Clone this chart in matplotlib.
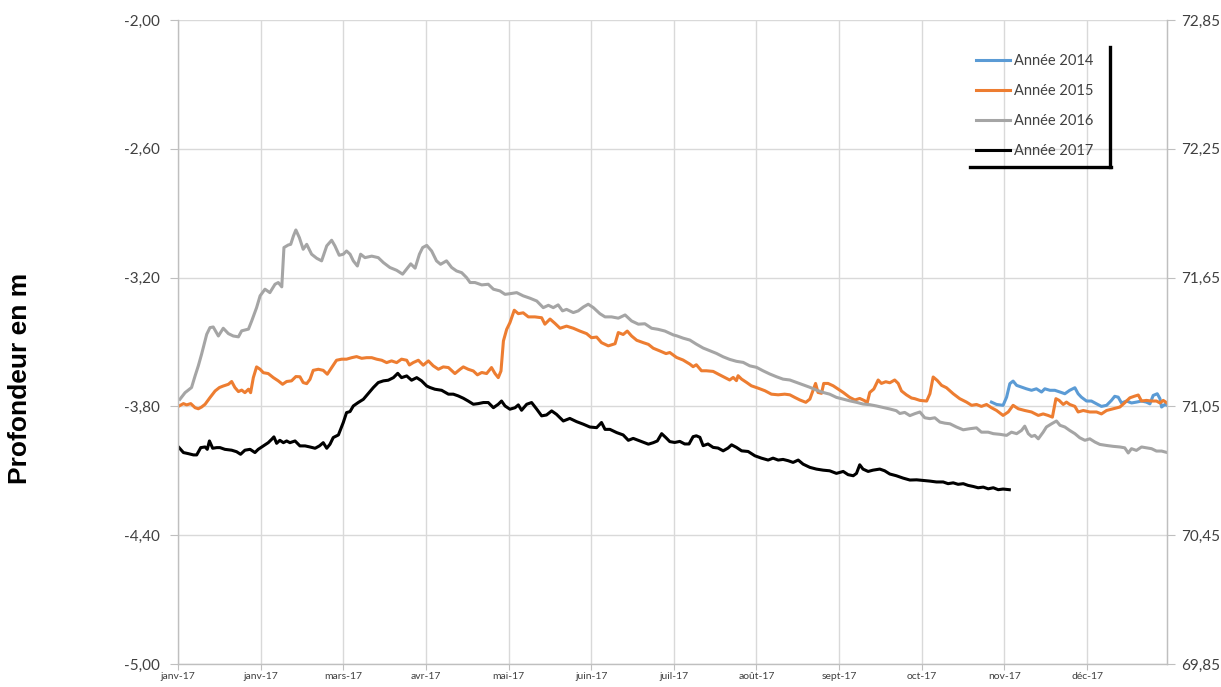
import matplotlib
matplotlib.use("Agg")
import matplotlib.pyplot as plt
from matplotlib.lines import Line2D

# Piezometric depth (m) by day of year, one series per year
days_2014 = [300.2, 302.1, 304.5, 305.8, 307.0, 308.2, 309.5, 311.3, 313.1, 315.0, 316.8, 318.7, 319.9,
             321.8, 323.6, 325.5, 327.3, 329.1, 331.0, 332.2, 333.4, 335.3, 337.1, 339.0, 340.8, 342.7,
             344.5, 345.7, 347.0, 348.2, 350.1, 351.9, 353.7, 355.6, 357.4, 358.7, 359.9, 361.4, 362.4,
             363.0, 364.2, 365.0]
depth_2014 = [-3.780, -3.791, -3.795, -3.757, -3.694, -3.682, -3.702, -3.710, -3.718, -3.725, -3.718, -3.733,
              -3.718, -3.725, -3.725, -3.733, -3.741, -3.725, -3.713, -3.741, -3.757, -3.775, -3.775, -3.788,
              -3.800, -3.795, -3.772, -3.753, -3.757, -3.784, -3.775, -3.784, -3.780, -3.775, -3.780, -3.788,
              -3.749, -3.741, -3.764, -3.803, -3.791, -3.795]

days_2015 = [0.4, 2.0, 3.2, 4.7, 6.3, 7.5, 8.7, 10.0, 11.8, 13.7, 15.3, 16.7, 18.6, 19.8, 21.0, 22.3, 23.5,
             24.7, 26.0, 26.8, 27.8, 29.0, 30.3, 31.5, 33.3, 35.2, 37.0, 38.6, 40.1, 41.9, 43.5, 45.0, 46.2,
             47.5, 48.7, 49.9, 51.8, 53.6, 55.1, 56.7, 58.5, 60.4, 62.2, 64.1, 65.9, 67.8, 69.6, 71.5, 73.3,
             75.2, 77.0, 78.8, 80.7, 82.5, 84.4, 85.4, 86.8, 88.7, 90.5, 92.4, 94.2, 96.1, 97.9, 99.8, 102.2,
             104.1, 105.3, 107.1, 109.0, 110.5, 112.1, 113.9, 115.7, 117.0, 118.2, 119.2, 120.1, 121.3, 122.5,
             124.1, 125.6, 127.4, 129.3, 131.7, 134.2, 135.4, 137.3, 139.1, 141.0, 143.4, 145.9, 148.3, 150.8,
             152.6, 154.5, 156.3, 158.8, 161.3, 162.5, 164.3, 165.8, 167.4, 169.3, 171.7, 173.6, 175.4, 177.9,
             180.1, 181.5, 184.0, 186.4, 188.9, 190.1, 191.3, 193.2, 195.0, 197.5, 199.3, 201.8, 203.6, 204.9,
             206.1, 206.7, 208.0, 209.8, 211.6, 214.1, 216.6, 219.0, 221.5, 223.9, 225.8, 227.6, 229.5, 231.7,
             233.2, 234.1, 235.3, 236.2, 237.5, 238.3, 239.9, 241.8, 243.6, 245.5, 247.9, 249.8, 251.6, 253.5,
             254.3, 255.3, 256.8, 258.4, 259.6, 261.2, 262.7, 264.5, 265.8, 267.0, 268.8, 270.7, 271.9, 273.8,
             276.3, 277.5, 278.7, 280.2, 281.8, 283.6, 286.1, 288.5, 291.0, 292.9, 294.7, 296.5, 298.4, 300.2,
             302.1, 304.5, 306.4, 308.2, 310.1, 312.5, 315.0, 317.5, 319.3, 321.1, 322.7, 324.0, 325.2, 326.7,
             327.9, 329.1, 331.0, 332.2, 334.1, 336.5, 339.0, 340.8, 342.7, 345.1, 347.6, 349.4, 351.3, 353.1,
             354.4, 355.6, 357.4, 359.3, 361.1, 362.4, 363.6, 365.0]
depth_2015 = [-3.798, -3.787, -3.793, -3.787, -3.806, -3.811, -3.803, -3.790, -3.759, -3.728, -3.712, -3.705,
              -3.697, -3.684, -3.712, -3.731, -3.724, -3.736, -3.720, -3.736, -3.666, -3.616, -3.627, -3.643,
              -3.647, -3.666, -3.681, -3.697, -3.684, -3.681, -3.661, -3.662, -3.689, -3.694, -3.674, -3.632,
              -3.627, -3.632, -3.650, -3.619, -3.585, -3.580, -3.580, -3.573, -3.568, -3.576, -3.573, -3.573,
              -3.580, -3.585, -3.596, -3.588, -3.596, -3.580, -3.585, -3.607, -3.596, -3.585, -3.608, -3.588,
              -3.611, -3.627, -3.616, -3.619, -3.647, -3.627, -3.616, -3.627, -3.635, -3.653, -3.642, -3.647,
              -3.619, -3.647, -3.666, -3.635, -3.495, -3.441, -3.410, -3.352, -3.368, -3.364, -3.383, -3.383,
              -3.387, -3.417, -3.393, -3.413, -3.436, -3.426, -3.436, -3.449, -3.461, -3.480, -3.477, -3.503,
              -3.518, -3.508, -3.456, -3.465, -3.449, -3.472, -3.492, -3.503, -3.511, -3.529, -3.542, -3.554,
              -3.549, -3.572, -3.584, -3.603, -3.615, -3.606, -3.634, -3.634, -3.637, -3.649, -3.665, -3.677,
              -3.665, -3.680, -3.657, -3.673, -3.688, -3.704, -3.715, -3.727, -3.743, -3.746, -3.743, -3.746,
              -3.758, -3.770, -3.781, -3.766, -3.735, -3.693, -3.735, -3.739, -3.693, -3.693, -3.704, -3.719,
              -3.735, -3.758, -3.770, -3.763, -3.774, -3.786, -3.735, -3.719, -3.677, -3.693, -3.685, -3.690,
              -3.677, -3.693, -3.728, -3.746, -3.761, -3.764, -3.772, -3.775, -3.741, -3.663, -3.679, -3.702,
              -3.713, -3.741, -3.764, -3.780, -3.795, -3.791, -3.800, -3.791, -3.806, -3.819, -3.842, -3.826,
              -3.795, -3.811, -3.819, -3.826, -3.842, -3.835, -3.842, -3.850, -3.764, -3.772, -3.791, -3.780,
              -3.791, -3.800, -3.826, -3.819, -3.826, -3.826, -3.835, -3.819, -3.811, -3.803, -3.783, -3.760,
              -3.752, -3.747, -3.775, -3.772, -3.775, -3.775, -3.784, -3.772, -3.784]

days_2016 = [0.7, 2.6, 5.0, 6.3, 7.5, 8.7, 10.6, 11.8, 13.0, 14.9, 16.7, 18.6, 20.4, 22.3, 23.5, 26.0, 27.2,
             29.0, 30.3, 32.1, 33.9, 35.8, 37.0, 38.3, 39.1, 40.7, 41.6, 42.6, 43.5, 44.8, 46.2, 47.5, 49.3,
             51.2, 53.0, 54.9, 56.7, 57.9, 59.5, 61.0, 62.2, 63.5, 64.7, 66.2, 67.4, 69.0, 71.5, 73.9, 75.8,
             78.2, 80.7, 82.9, 84.4, 85.9, 87.5, 89.1, 90.3, 91.8, 93.6, 95.4, 96.9, 99.1, 101.0, 102.8, 104.7,
             106.5, 107.8, 109.6, 112.1, 114.5, 116.4, 118.8, 120.7, 122.5, 125.0, 127.4, 129.9, 132.4, 134.8,
             136.7, 138.5, 140.3, 141.9, 143.4, 145.9, 147.7, 149.6, 151.4, 153.3, 155.7, 157.6, 160.0, 162.5,
             165.0, 167.4, 169.9, 172.3, 174.8, 177.2, 179.7, 182.8, 184.0, 186.4, 188.9, 191.3, 193.8, 196.3,
             198.7, 201.2, 203.6, 206.1, 208.6, 211.0, 213.5, 215.9, 218.4, 220.9, 223.3, 225.8, 228.2, 230.7,
             233.2, 235.6, 238.1, 240.5, 243.0, 245.5, 247.9, 250.4, 252.8, 255.3, 257.8, 260.2, 262.7, 265.1,
             266.4, 268.2, 270.1, 271.9, 273.8, 275.6, 277.5, 279.3, 281.2, 283.0, 284.9, 287.3, 289.8, 292.2,
             294.7, 296.5, 299.0, 300.9, 303.3, 305.8, 307.6, 309.5, 311.3, 312.5, 313.8, 315.0, 316.2, 317.5,
             319.3, 320.5, 322.4, 324.2, 325.5, 327.3, 329.1, 331.0, 332.8, 334.7, 336.5, 338.4, 340.2, 342.7,
             345.1, 347.6, 349.4, 350.7, 351.9, 353.7, 355.6, 357.4, 359.3, 361.1, 363.0, 364.8]
depth_2016 = [-3.767, -3.736, -3.712, -3.658, -3.611, -3.557, -3.464, -3.433, -3.430, -3.472, -3.436, -3.461,
              -3.472, -3.476, -3.448, -3.440, -3.402, -3.340, -3.285, -3.254, -3.270, -3.231, -3.223, -3.243,
              -3.060, -3.048, -3.045, -3.006, -2.978, -3.014, -3.068, -3.045, -3.091, -3.110, -3.122, -3.052,
              -3.026, -3.052, -3.096, -3.091, -3.076, -3.091, -3.122, -3.146, -3.091, -3.107, -3.100, -3.107,
              -3.130, -3.153, -3.166, -3.184, -3.160, -3.136, -3.156, -3.091, -3.060, -3.050, -3.076, -3.122,
              -3.138, -3.122, -3.153, -3.169, -3.177, -3.200, -3.223, -3.223, -3.234, -3.231, -3.254, -3.262,
              -3.278, -3.275, -3.270, -3.285, -3.296, -3.309, -3.340, -3.329, -3.340, -3.327, -3.355, -3.348,
              -3.363, -3.355, -3.337, -3.324, -3.340, -3.368, -3.383, -3.383, -3.389, -3.374, -3.402, -3.417,
              -3.415, -3.436, -3.441, -3.449, -3.467, -3.471, -3.482, -3.491, -3.510, -3.528, -3.541, -3.553,
              -3.569, -3.581, -3.590, -3.595, -3.611, -3.618, -3.634, -3.649, -3.662, -3.673, -3.677, -3.688,
              -3.699, -3.711, -3.724, -3.735, -3.743, -3.758, -3.766, -3.774, -3.781, -3.789, -3.792, -3.798,
              -3.805, -3.812, -3.820, -3.833, -3.828, -3.843, -3.834, -3.826, -3.853, -3.857, -3.853, -3.873,
              -3.878, -3.881, -3.896, -3.909, -3.904, -3.900, -3.920, -3.920, -3.927, -3.930, -3.935, -3.920,
              -3.927, -3.912, -3.892, -3.927, -3.940, -3.935, -3.951, -3.920, -3.896, -3.881, -3.868, -3.888,
              -3.896, -3.912, -3.927, -3.946, -3.958, -3.951, -3.966, -3.977, -3.982, -3.986, -3.989, -3.993,
              -4.017, -3.997, -4.005, -3.989, -3.993, -3.997, -4.008, -4.008, -4.014]

days_2017 = [0.4, 2.0, 3.8, 5.7, 6.9, 8.4, 10.0, 10.8, 11.6, 12.8, 14.3, 15.5, 17.3, 19.8, 21.6, 23.1, 24.7,
             26.6, 28.4, 29.6, 31.5, 33.3, 34.6, 35.4, 36.4, 37.6, 38.9, 40.1, 41.3, 43.2, 45.0, 46.9, 48.7,
             50.6, 52.2, 53.6, 54.9, 56.1, 57.3, 59.2, 61.0, 62.2, 63.5, 64.7, 66.5, 68.4, 70.2, 72.1, 73.9,
             75.8, 77.6, 79.5, 81.1, 82.5, 84.4, 86.2, 88.1, 89.9, 91.8, 93.0, 94.8, 97.3, 99.8, 101.6, 103.4,
             105.3, 107.1, 109.0, 110.8, 112.7, 114.5, 116.4, 118.2, 119.4, 120.7, 122.5, 124.4, 125.6, 126.8,
             128.7, 130.5, 132.4, 134.2, 136.0, 137.9, 139.7, 142.2, 144.6, 147.1, 149.6, 152.0, 154.5, 156.3,
             157.6, 159.4, 161.9, 164.3, 166.2, 168.0, 170.5, 173.6, 175.4, 176.9, 178.5, 180.1, 181.5, 183.3,
             185.2, 187.0, 188.6, 190.1, 191.3, 192.6, 193.8, 195.6, 197.5, 199.3, 201.2, 203.0, 204.3, 206.1,
             208.0, 210.4, 212.9, 215.3, 217.8, 219.6, 221.5, 223.3, 225.2, 227.0, 228.9, 230.7, 233.2, 235.6,
             238.1, 240.5, 243.0, 245.5, 247.3, 249.2, 250.4, 251.6, 252.8, 254.7, 256.5, 259.0, 260.8, 262.7,
             265.1, 267.6, 270.1, 272.6, 275.0, 277.5, 279.9, 282.4, 284.2, 286.1, 287.9, 289.8, 291.6, 293.5,
             295.3, 297.2, 299.0, 300.9, 302.7, 304.5, 306.8]
depth_2017 = [-3.992, -4.015, -4.020, -4.026, -4.026, -3.992, -3.989, -4.000, -3.961, -3.995, -3.992, -3.992,
              -4.000, -4.004, -4.011, -4.023, -4.004, -4.000, -4.015, -4.000, -3.984, -3.969, -3.953, -3.942,
              -3.972, -3.958, -3.969, -3.961, -3.969, -3.961, -3.984, -3.984, -3.989, -3.995, -3.984, -3.969,
              -3.995, -3.976, -3.945, -3.933, -3.875, -3.829, -3.824, -3.798, -3.782, -3.767, -3.740, -3.712,
              -3.689, -3.681, -3.678, -3.666, -3.646, -3.666, -3.658, -3.678, -3.666, -3.681, -3.705, -3.712,
              -3.720, -3.725, -3.743, -3.743, -3.751, -3.762, -3.775, -3.790, -3.787, -3.782, -3.782, -3.806,
              -3.790, -3.775, -3.798, -3.813, -3.806, -3.793, -3.818, -3.790, -3.782, -3.813, -3.844, -3.840,
              -3.821, -3.837, -3.868, -3.856, -3.871, -3.883, -3.896, -3.899, -3.875, -3.907, -3.907, -3.922,
              -3.933, -3.958, -3.949, -3.961, -3.976, -3.969, -3.961, -3.927, -3.946, -3.964, -3.968, -3.963,
              -3.975, -3.975, -3.941, -3.937, -3.944, -3.983, -3.975, -3.991, -3.994, -4.007, -3.994, -3.979,
              -3.991, -4.007, -4.010, -4.030, -4.041, -4.050, -4.041, -4.050, -4.047, -4.053, -4.061, -4.050,
              -4.069, -4.084, -4.092, -4.097, -4.100, -4.112, -4.103, -4.118, -4.123, -4.112, -4.072, -4.092,
              -4.103, -4.097, -4.092, -4.100, -4.115, -4.123, -4.134, -4.143, -4.142, -4.145, -4.148, -4.152,
              -4.152, -4.160, -4.156, -4.163, -4.160, -4.168, -4.173, -4.179, -4.176, -4.184, -4.179, -4.188,
              -4.185, -4.188]

month_labels = ["janv-17", "janv-17", "mars-17", "avr-17", "mai-17", "juin-17",
                "juil-17", "août-17", "sept-17", "oct-17", "nov-17", "déc-17"]
depth_ticks = [-5.0, -4.4, -3.8, -3.2, -2.6, -2.0]
level_ticks = [69.85, 70.45, 71.05, 71.65, 72.25, 72.85]

series = [
    ("Année 2014", days_2014, depth_2014, "#5b9bd5"),
    ("Année 2015", days_2015, depth_2015, "#ed7d31"),
    ("Année 2016", days_2016, depth_2016, "#a5a5a5"),
    ("Année 2017", days_2017, depth_2017, "#000000"),
]

W, H = 1221, 687
fig = plt.figure(figsize=(W / 100, H / 100), dpi=100)
ax = fig.add_axes([178 / W, 1 - 664 / H, (1167 - 178) / W, (664 - 20) / H])

grid_c = "#d9d9d9"
axis_c = "#bfbfbf"
tick_font = "Lato"


def fr(v):
    return f"{v:.2f}".replace(".", ",")


for label, d, v, c in series:
    ax.plot(d, v, color=c, lw=2.2, label=label, solid_joinstyle="round")

ax.set_xlim(0, 365)
ax.set_ylim(-5.0, -2.0)
ax.set_xticks([i * 30.5 for i in range(len(month_labels))])
ax.set_xticklabels(month_labels, fontsize=7.5, family=tick_font, color="#404040")
ax.set_yticks(depth_ticks)
ax.set_yticklabels([fr(t) for t in depth_ticks], fontsize=11, family=tick_font, color="#404040")
ax.grid(True, color=grid_c, lw=1)
ax.set_axisbelow(True)
ax.spines["top"].set_visible(False)
for s in ("left", "bottom", "right"):
    ax.spines[s].set_color(axis_c)
    ax.spines[s].set_linewidth(1)
ax.tick_params(axis="y", length=6, color=axis_c, pad=7)
ax.tick_params(axis="x", length=4, color=axis_c, pad=2)

ax2 = ax.twinx()
ax2.set_ylim(69.85, 72.85)
ax2.set_yticks(level_ticks)
ax2.set_yticklabels([fr(t) for t in level_ticks], fontsize=11, family=tick_font, color="#404040")
ax2.tick_params(axis="y", length=6, color=axis_c, pad=4)
for s in ("top", "left", "bottom"):
    ax2.spines[s].set_visible(False)
ax2.spines["right"].set_color(axis_c)

fig.text(20 / W, 1 - 378 / H, "Profondeur en m", rotation=90, ha="center", va="center",
         fontsize=19, fontweight="bold", family="Liberation Sans", color="#000000")

handles = [Line2D([0], [0], color=c, lw=2.2) for _, _, _, c in series]
leg = fig.legend(handles, [s[0] for s in series], loc="upper left",
                 bbox_to_anchor=(976 / W, 1 - 54 / H), bbox_transform=fig.transFigure,
                 frameon=False, handlelength=2.3, handletextpad=0.3,
                 labelspacing=1.1, borderpad=0, borderaxespad=0,
                 prop={"family": tick_font, "size": 10.5})
for t in leg.get_texts():
    t.set_color("#404040")

# dark drop-shadow edges of the legend box
fig.add_artist(Line2D([1110 / W, 1110 / W], [1 - 47 / H, 1 - 167 / H], color="black", lw=2.4,
                      transform=fig.transFigure))
fig.add_artist(Line2D([970 / W, 1111 / W], [1 - 167 / H, 1 - 167 / H], color="black", lw=2.4,
                      transform=fig.transFigure))

fig.savefig("out.png", dpi=100)
